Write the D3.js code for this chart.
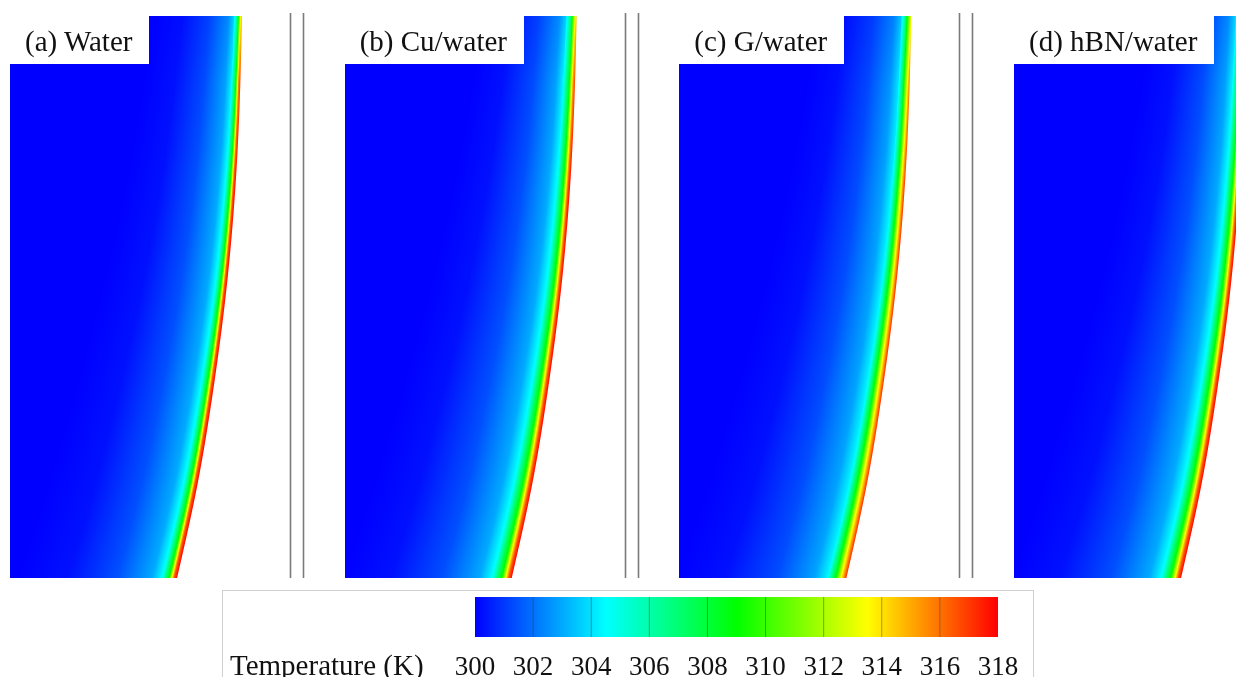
<!DOCTYPE html>
<meta charset="utf-8">
<style>
body { margin: 0; background: #fff; }
#wrap { position: relative; width: 1236px; height: 677px; overflow: hidden; }
#wrap canvas, #wrap svg { position: absolute; left: 0; top: 0; }
text { font-family: "Liberation Serif", "Times New Roman", serif; fill: #111; }
</style>
<body>
<div id="wrap">
  <canvas id="field" width="1236" height="677"></canvas>
  <svg width="1236" height="677"></svg>
</div>
<script src="https://d3js.org/d3.v7.min.js"></script>
<script>
// panel titles
var panelNames = ["(a) Water", "(b) Cu/water", "(c) G/water", "(d) hBN/water"];

// wall contour, sampled at equal depth steps from top to bottom (normalised radius)
var wallRadius = [1, 0.991, 0.969, 0.932, 0.877, 0.813, 0.720];

// thermal layer thickening along the wall
var layerDepth = [0, 0.25, 0.5, 0.75, 1];
var layerScale = [0.55, 0.66, 0.78, 0.9, 1];

// wall temperature along the wall (K), one row per panel
var wallTempDepth = [0, 0.12, 0.3, 1];
var wallTemp = [
  [314.5, 317, 318, 318],
  [314.5, 317, 318, 318],
  [313.5, 316, 317.3, 317.3],
  [314.5, 317, 318, 318]
];

// temperature across the layer: distance from wall (fraction of radius) -> T (K)
var profileT = [318, 316.5, 313.5, 309, 304.5, 303, 301.4, 300.3, 300];
var profileDist = [
  [0, 0.013, 0.022, 0.034, 0.065, 0.108, 0.26, 0.47, 0.69],
  [0, 0.013, 0.026, 0.043, 0.086, 0.138, 0.30, 0.52, 0.73],
  [0, 0.009, 0.026, 0.047, 0.082, 0.138, 0.30, 0.52, 0.73],
  [0, 0.013, 0.026, 0.045, 0.086, 0.138, 0.30, 0.52, 0.73]
];

// colour legend
var legendTicks = [300, 302, 304, 306, 308, 310, 312, 314, 316, 318];
var jetT = [300, 304.5, 309, 313.5, 318];
var jetColors = ["#0000ff", "#00ffff", "#00ff00", "#ffff00", "#ff0000"];

var W = 1236, H = 677;
var svg = d3.select("svg");
var ctx = document.getElementById("field").getContext("2d");

var panelX = d3.scaleLinear().domain([0, 3]).range([0, 1004]);
var rx = d3.scaleLinear().domain([0, 1]).range([10, 242]);
var dy = d3.scaleLinear().domain([0, 1]).range([16, 578]);
var wallAt = d3.interpolateBasis(wallRadius);
var layerAt = d3.scaleLinear().domain(layerDepth).range(layerScale);
var color = d3.scaleLinear().domain(jetT).range(jetColors).clamp(true);

// colour lookup table
var lut = d3.range(0, 1801).map(function(k) { return d3.rgb(color(300 + k / 100)); });
function lookup(T) {
  var k = Math.round((T - 300) * 100);
  return lut[Math.max(0, Math.min(1800, k))];
}

// panel labels first, their width sets the white cut-out
var cut = [];
panelNames.forEach(function(name, i) {
  var t = svg.append("text")
    .attr("x", panelX(i) + 25)
    .attr("y", 51)
    .style("font-size", "29px")
    .text(name);
  cut.push(panelX(i) + 25 + t.node().getComputedTextLength() + 17);
});

// temperature field
var img = ctx.createImageData(W, H);
for (var p = 0; p < img.data.length; p++) img.data[p] = 255;
var radiusPx = rx(1) - rx(0);

panelNames.forEach(function(name, i) {
  var off = panelX(i);
  var prof = d3.scaleLinear().domain(profileDist[i]).range(profileT).clamp(true);
  var wt = d3.scaleLinear().domain(wallTempDepth).range(wallTemp[i]);
  for (var py = Math.round(dy(0)); py < Math.round(dy(1)); py++) {
    var depth = dy.invert(py + 0.5);
    var xw = off + rx(wallAt(depth));
    var sc = layerAt(depth);
    var wT = wt(depth);
    var xs = Math.round(py < 64 ? cut[i] : off + rx(0));
    var xe = Math.min(Math.ceil(xw), W - 1);
    for (var px = xs; px <= xe; px++) {
      var cov = Math.max(0, Math.min(1, xw - px));
      if (cov <= 0) continue;
      var dist = Math.max(0, xw - (px + 0.5)) / radiusPx / sc;
      var T = 300 + (prof(dist) - 300) * (wT - 300) / 18;
      var c = lookup(T);
      var idx = (py * W + px) * 4;
      img.data[idx] = Math.round(c.r * cov + 255 * (1 - cov));
      img.data[idx + 1] = Math.round(c.g * cov + 255 * (1 - cov));
      img.data[idx + 2] = Math.round(c.b * cov + 255 * (1 - cov));
    }
  }
});
ctx.putImageData(img, 0, 0);

// double separator lines
panelNames.forEach(function(name, i) {
  [1.207, 1.263].forEach(function(r) {
    var x = Math.round(panelX(i) + rx(r)) + 0.5;
    svg.append("line")
      .attr("x1", x).attr("x2", x)
      .attr("y1", 13).attr("y2", 578)
      .attr("stroke", "#7a7a7a")
      .attr("stroke-width", 1.6);
  });
});

// legend
svg.append("rect")
  .attr("x", 222.5).attr("y", 590.5)
  .attr("width", 811).attr("height", 120)
  .attr("fill", "#fff")
  .attr("stroke", "#cfcfcf");

var lx = d3.scaleLinear().domain([300, 318]).range([475, 998]);
var grad = svg.append("defs").append("linearGradient")
  .attr("id", "jet")
  .attr("x1", "0%").attr("x2", "100%").attr("y1", "0%").attr("y2", "0%");
grad.selectAll("stop")
  .data(jetT)
  .enter().append("stop")
    .attr("offset", function(d) { return ((d - 300) / 18 * 100) + "%"; })
    .attr("stop-color", function(d) { return color(d); });

svg.append("rect")
  .attr("x", lx(300)).attr("y", 597)
  .attr("width", lx(318) - lx(300)).attr("height", 40)
  .attr("fill", "url(#jet)");

svg.selectAll(".div")
  .data(legendTicks.slice(1, -1))
  .enter().append("line")
    .attr("class", "div")
    .attr("x1", function(d) { return lx(d); })
    .attr("x2", function(d) { return lx(d); })
    .attr("y1", 597).attr("y2", 637)
    .attr("stroke", "#3a3a3a")
    .attr("stroke-opacity", 0.45)
    .attr("stroke-width", 1);

svg.selectAll(".tick")
  .data(legendTicks)
  .enter().append("text")
    .attr("class", "tick")
    .attr("x", function(d) { return lx(d); })
    .attr("y", 675)
    .attr("text-anchor", "middle")
    .style("font-size", "27px")
    .text(function(d) { return d; });

svg.append("text")
  .attr("x", 230)
  .attr("y", 675)
  .style("font-size", "29px")
  .text("Temperature (K)");
</script>
</body>
